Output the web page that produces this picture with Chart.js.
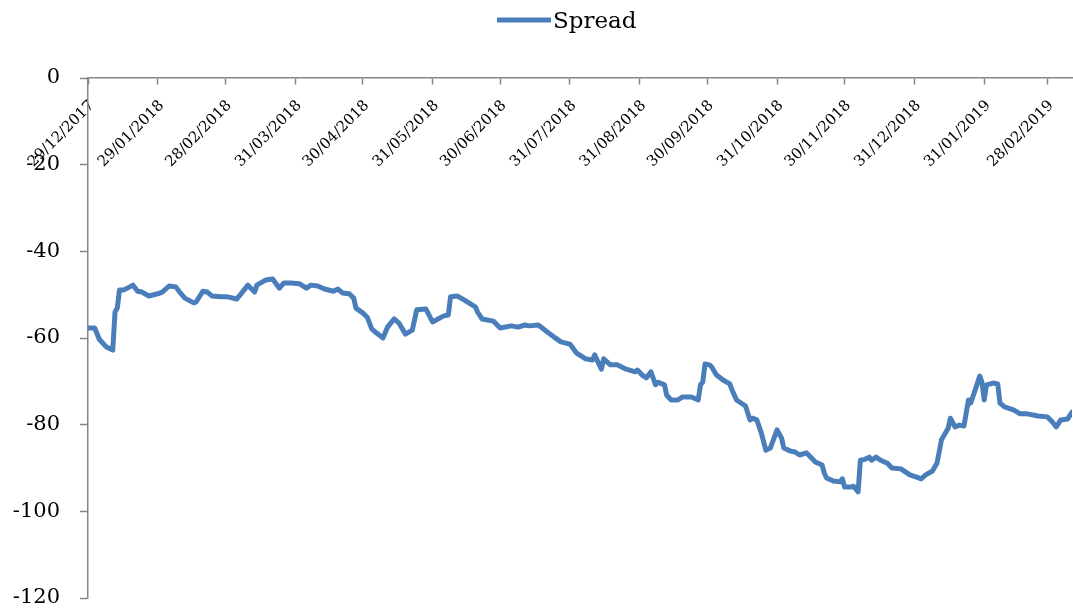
<!DOCTYPE html>
<html>
<head>
<meta charset="utf-8">
<title>Spread</title>
<script src="https://cdn.jsdelivr.net/npm/chart.js@4/dist/chart.umd.min.js"></script>
<style>
  html, body { margin: 0; padding: 0; background: #ffffff; }
  #wrap { width: 1073px; height: 612px; position: relative; }
</style>
</head>
<body>
<div id="wrap"><canvas id="chart"></canvas></div>
<script>
// Month-end labels on the date axis (dd/mm/yyyy)
const tickLabels = [
  '29/12/2017', '29/01/2018', '28/02/2018', '31/03/2018', '30/04/2018',
  '31/05/2018', '30/06/2018', '31/07/2018', '31/08/2018', '30/09/2018',
  '31/10/2018', '30/11/2018', '31/12/2018', '31/01/2019', '28/02/2019'
];

// Observation dates, as days since 29/12/2017
const dayOffsets = [
  0, 3, 5, 8, 11, 12, 13, 14, 16, 20, 22, 24, 27, 31, 33, 36, 39, 41, 43, 47,
  48, 51, 53, 55, 59, 62, 66, 68, 71, 74, 75, 79, 82, 85, 87, 90, 94, 97, 99, 102,
  105, 109, 111, 113, 116, 118, 119, 122, 124, 126, 128, 131, 133, 136, 138, 141, 144, 146, 150, 153,
  158, 160, 161, 164, 167, 170, 172, 173, 175, 180, 183, 188, 191, 194, 196, 200, 204, 207, 210, 214,
  217, 221, 224, 225, 228, 229, 232, 235, 239, 243, 244, 246, 248, 250, 252, 253, 256, 257, 259, 262,
  264, 268, 271, 272, 273, 274, 276, 277, 279, 282, 285, 286, 288, 290, 292, 294, 295, 297, 299, 301,
  303, 306, 308, 309, 312, 314, 316, 319, 320, 323, 326, 327, 328, 331, 334, 335, 336, 339, 340, 342,
  343, 345, 347, 348, 350, 352, 355, 357, 361, 363, 365, 368, 370, 372, 375, 377, 378, 379, 382, 383,
  385, 387, 389, 390, 391, 392, 394, 396, 397, 398, 399, 402, 404, 405, 407, 411, 414, 417, 422, 426,
  428, 430, 432, 435, 437
];

// Spread values (basis points)
const spreadValues = [
  -57.7, -57.7, -60.3, -62.0, -62.8, -54.0, -53.1, -48.9, -48.9, -47.8, -49.2, -49.4, -50.3, -49.8, -49.4, -48.0, -48.2, -49.6, -50.8, -51.9,
  -51.7, -49.2, -49.4, -50.3, -50.5, -50.5, -51.0, -49.8, -47.8, -49.4, -47.8, -46.6, -46.4, -48.5, -47.3, -47.3, -47.5, -48.5, -47.8, -48.0,
  -48.7, -49.2, -48.7, -49.6, -49.8, -50.8, -53.1, -54.2, -55.2, -57.9, -58.8, -60.0, -57.5, -55.6, -56.5, -59.1, -58.2, -53.5, -53.3, -56.3,
  -54.9, -54.7, -50.5, -50.3, -51.2, -52.2, -52.8, -54.0, -55.6, -56.1, -57.7, -57.2, -57.5, -57.0, -57.2, -57.0, -58.6, -59.8, -60.9, -61.4,
  -63.5, -64.8, -65.1, -63.9, -67.2, -64.8, -66.2, -66.2, -67.2, -67.8, -67.4, -68.5, -69.2, -67.8, -70.8, -70.2, -70.8, -73.2, -74.3, -74.3,
  -73.6, -73.6, -74.3, -70.8, -70.2, -66.0, -66.2, -66.7, -68.5, -69.7, -70.6, -72.0, -74.3, -75.0, -75.7, -78.9, -78.5, -78.9, -81.9, -85.9,
  -85.4, -81.2, -83.1, -85.4, -86.1, -86.3, -87.0, -86.5, -87.0, -88.6, -89.3, -91.2, -92.3, -93.0, -93.2, -92.5, -94.4, -94.4, -94.2, -95.5,
  -88.2, -88.0, -87.5, -88.2, -87.5, -88.2, -88.9, -90.0, -90.2, -90.9, -91.6, -92.1, -92.5, -91.6, -90.7, -88.9, -86.3, -83.5, -80.8, -78.5,
  -80.5, -80.1, -80.3, -77.3, -74.3, -75.0, -72.0, -68.8, -70.2, -74.3, -70.8, -70.4, -70.6, -75.0, -75.9, -76.6, -77.5, -77.5, -78.0, -78.2,
  -79.2, -80.5, -78.9, -78.7, -77.1
];

const seriesName = 'Spread';
const yMin = -120, yMax = 0, yStep = 20;

// Convert a dd/mm/yyyy label to days since the first label
function toDays(label) {
  const [d, m, y] = label.split('/').map(Number);
  return Date.UTC(y, m - 1, d) / 86400000;
}
const startDay = toDays(tickLabels[0]);
const tickDays = tickLabels.map(l => toDays(l) - startDay);
const labelByDay = new Map(tickDays.map((v, i) => [v, tickLabels[i]]));

const points = dayOffsets.map((d, i) => ({ x: d, y: spreadValues[i] }));

const FONT = 'DejaVu Serif';
const AXIS_GREY = '#868686';
const LINE_BLUE = '#4a7ebb';

// Series key above the plot: a short line sample followed by the series name
const seriesKey = {
  id: 'seriesKey',
  afterDraw(chart) {
    const ds = chart.data.datasets[0];
    const ctx = chart.ctx;
    const lineStart = 497, lineEnd = 551, midY = 20;
    ctx.save();
    ctx.strokeStyle = ds.borderColor;
    ctx.lineWidth = ds.borderWidth;
    ctx.lineCap = 'butt';
    ctx.beginPath();
    ctx.moveTo(lineStart, midY);
    ctx.lineTo(lineEnd, midY);
    ctx.stroke();
    ctx.fillStyle = '#000000';
    ctx.font = '23px "' + FONT + '"';
    ctx.textAlign = 'left';
    ctx.textBaseline = 'alphabetic';
    ctx.fillText(ds.label, lineEnd + 2, 28);
    ctx.restore();
  }
};

new Chart(document.getElementById('chart'), {
  type: 'line',
  data: {
    datasets: [{
      label: seriesName,
      data: points,
      borderColor: LINE_BLUE,
      backgroundColor: LINE_BLUE,
      borderWidth: 5,
      pointRadius: 0,
      tension: 0,
      borderJoinStyle: 'round',
      borderCapStyle: 'round'
    }]
  },
  plugins: [seriesKey],
  options: {
    responsive: true,
    maintainAspectRatio: false,
    animation: false,
    devicePixelRatio: 1,
    layout: { padding: { left: 0, right: 0, top: 78, bottom: 0 } },
    plugins: {
      tooltip: { enabled: false },
      legend: { display: false }
    },
    scales: {
      x: {
        type: 'linear',
        position: { y: 0 },
        min: 0,
        max: dayOffsets[dayOffsets.length - 1],
        afterBuildTicks(scale) {
          scale.ticks = tickDays.map(v => ({ value: v }));
        },
        grid: {
          drawOnChartArea: false,
          drawTicks: true,
          tickLength: 6,
          tickColor: AXIS_GREY,
          tickWidth: 1.5
        },
        border: { display: true, color: AXIS_GREY, width: 1.5 },
        ticks: {
          autoSkip: false,
          minRotation: 45,
          maxRotation: 45,
          padding: 13,
          labelOffset: 4,
          color: '#000000',
          font: { family: FONT, size: 15 },
          callback: v => labelByDay.get(v) ?? ''
        }
      },
      y: {
        type: 'linear',
        position: 'left',
        min: yMin,
        max: yMax,
        afterFit(scale) {
          scale.width = 88;
          scale.paddingBottom = 14;
        },
        grid: {
          drawOnChartArea: false,
          drawTicks: true,
          tickLength: 8,
          tickColor: AXIS_GREY,
          tickWidth: 1.5
        },
        border: { display: true, color: AXIS_GREY, width: 1.5 },
        ticks: {
          stepSize: yStep,
          padding: 20,
          color: '#000000',
          font: { family: FONT, size: 21 }
        }
      }
    }
  }
});
</script>
</body>
</html>
